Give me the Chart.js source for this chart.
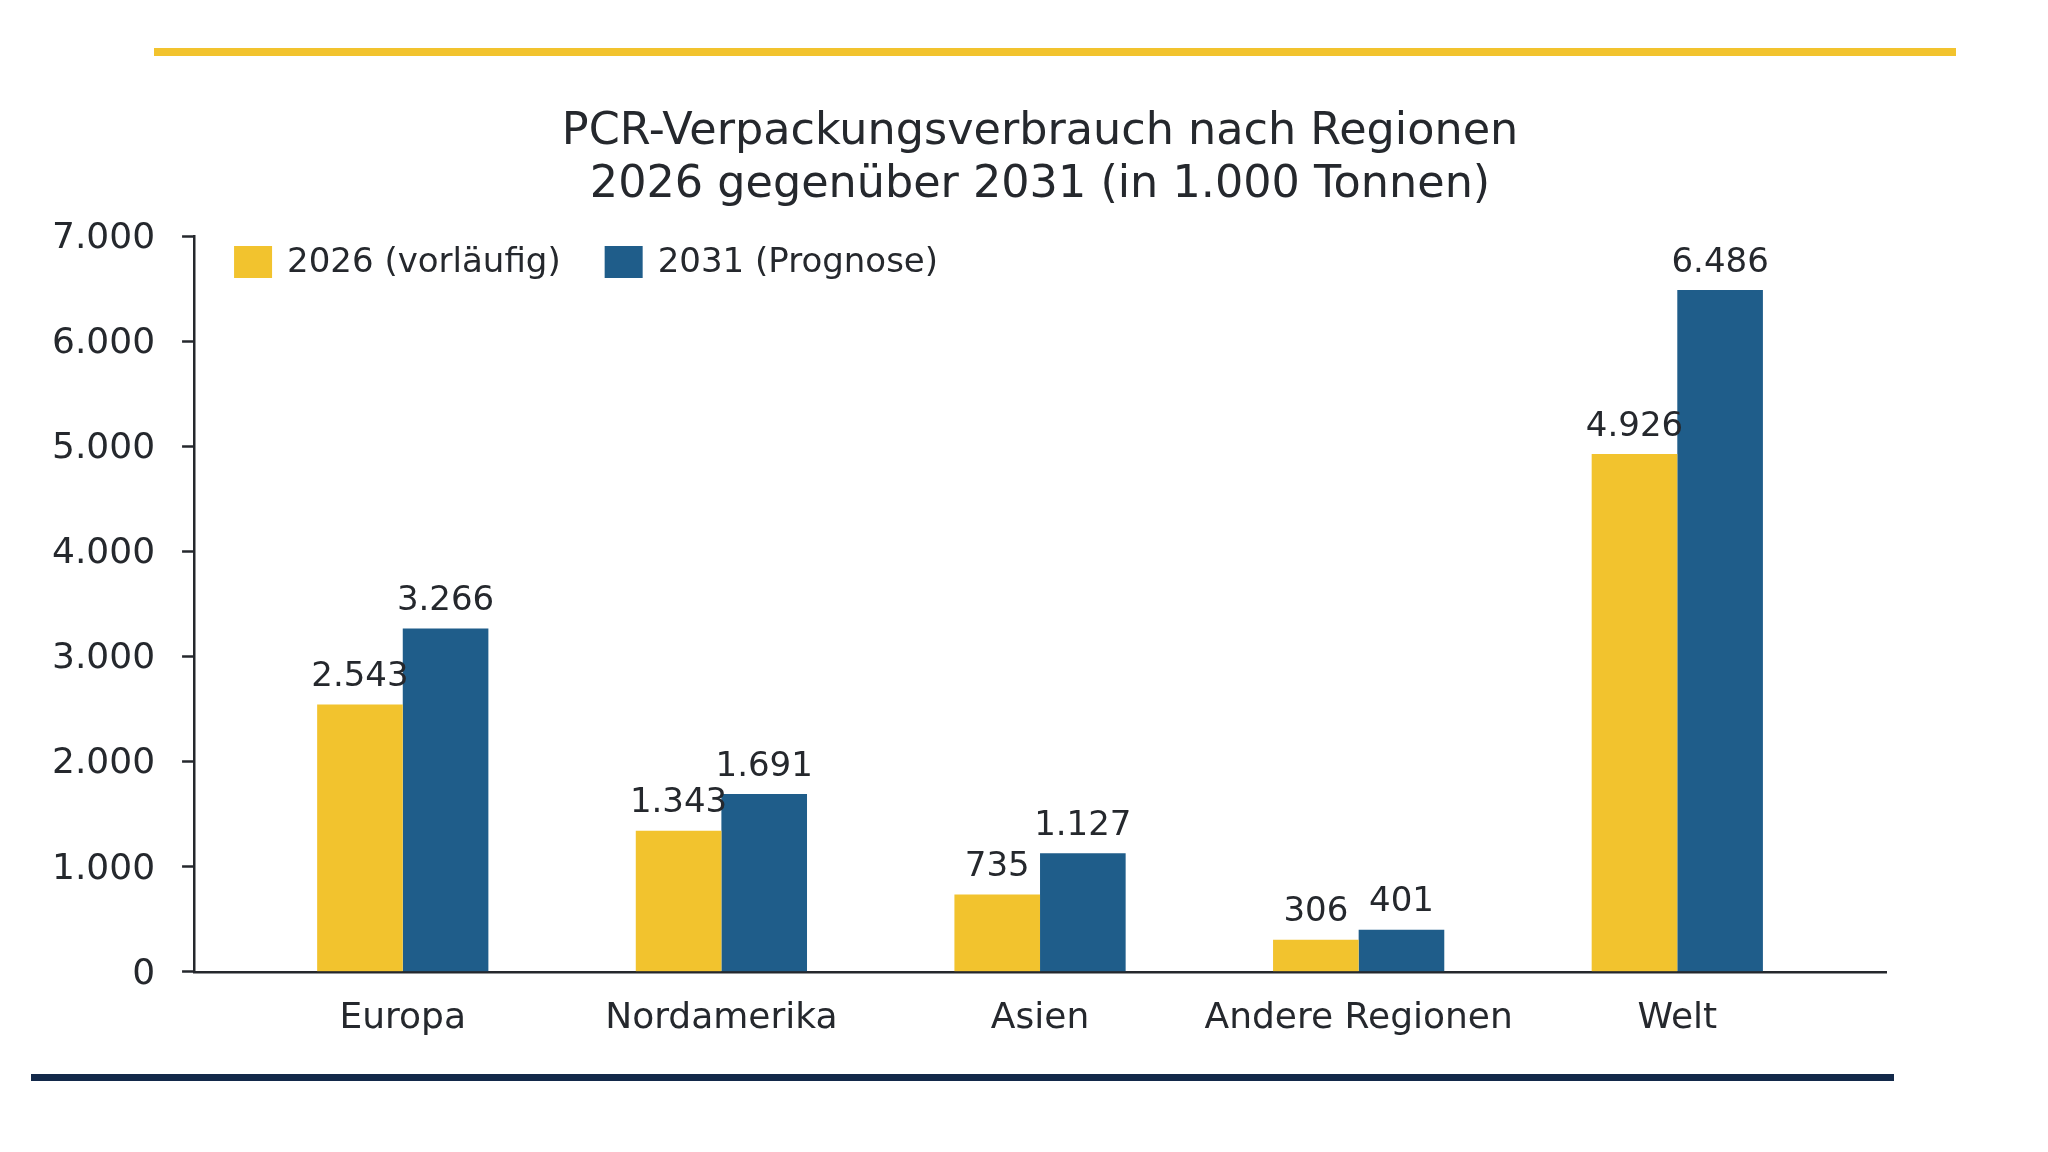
<!DOCTYPE html>
<html>
<head>
<meta charset="utf-8">
<script src="https://cdn.jsdelivr.net/npm/chart.js@4/dist/chart.umd.min.js"></script>
<style>
    html, body { margin: 0; padding: 0; background: #fff; }
    #wrap { width: 2048px; height: 1152px; }
</style>
</head>
<body>
<div id="wrap"><canvas id="myChart" width="2048" height="1152"></canvas></div>
<script>
(() => {
    'use strict'

    const regions = ['Europa', 'Nordamerika', 'Asien', 'Andere Regionen', 'Welt']
    const values2026 = [2543, 1343, 735, 306, 4926]
    const values2031 = [3266, 1691, 1127, 401, 6486]
    const seriesNames = ['2026 (vorläufig)', '2031 (Prognose)']
    const yTicks = [0, 1000, 2000, 3000, 4000, 5000, 6000, 7000]

    const YELLOW = '#F2C32E'
    const BLUE = '#1F5D8A'
    const NAVY = '#13294A'
    const INK = '#25282d'
    const FONT = 'DejaVu Sans'

    // 1.234 style
    const fmt = v => String(v).replace(/\B(?=(\d{3})+(?!\d))/g, '.')

    const toPoints = arr => arr.map((v, i) => ({ x: i, y: v }))

    // horizontal rules above and below the chart
    const decor = {
        id: 'decor',
        beforeDraw(chart) {
            const c = chart.ctx
            c.save()
            c.fillStyle = '#fff'
            c.fillRect(0, 0, chart.width, chart.height)
            c.fillStyle = YELLOW
            c.fillRect(154, 48, 1802, 8)
            c.fillStyle = NAVY
            c.fillRect(31, 1074, 1863, 7)
            c.restore()
        }
    }

    // value labels on top of the bars
    const barLabels = {
        id: 'barLabels',
        afterDatasetsDraw(chart) {
            const c = chart.ctx
            c.save()
            c.font = '34px "' + FONT + '"'
            c.fillStyle = INK
            c.textAlign = 'center'
            c.textBaseline = 'alphabetic'
            chart.data.datasets.forEach((ds, di) => {
                chart.getDatasetMeta(di).data.forEach((bar, i) => {
                    c.fillText(fmt(ds.data[i].y), bar.x, bar.y - 18.5)
                })
            })
            c.restore()
        }
    }

    // legend inside the plot, top left
    const innerLegend = {
        id: 'innerLegend',
        afterDraw(chart) {
            const c = chart.ctx
            const area = chart.chartArea
            let x = area.left + 40
            const cy = area.top + 27
            c.save()
            c.font = '34px "' + FONT + '"'
            c.textBaseline = 'middle'
            c.textAlign = 'left'
            chart.data.datasets.forEach(ds => {
                c.fillStyle = ds.backgroundColor
                c.fillRect(x, cy - 17, 38, 32)
                x += 38 + 15
                c.fillStyle = INK
                c.fillText(ds.label, x, cy)
                x += c.measureText(ds.label).width + 44
            })
            c.restore()
        }
    }

    const ctx = document.getElementById('myChart')
    // eslint-disable-next-line no-unused-vars
    const myChart = new Chart(ctx, {
        type: 'bar',
        data: {
            datasets: [{
                label: seriesNames[0],
                data: toPoints(values2026),
                backgroundColor: YELLOW,
                borderWidth: 0
            }, {
                label: seriesNames[1],
                data: toPoints(values2031),
                backgroundColor: BLUE,
                borderWidth: 0
            }]
        },
        options: {
            responsive: false,
            animation: false,
            devicePixelRatio: 1,
            categoryPercentage: 0.5374,
            barPercentage: 1,
            layout: {
                padding: { top: 0, left: 25, right: 162, bottom: 86 }
            },
            scales: {
                x: {
                    type: 'linear',
                    min: -0.655,
                    max: 4.655,
                    offset: false,
                    grid: { display: true, drawOnChartArea: false, drawTicks: false },
                    border: { display: true, color: INK, width: 2.5 },
                    ticks: {
                        stepSize: 1,
                        includeBounds: false,
                        autoSkip: false,
                        maxRotation: 0,
                        padding: 25.5,
                        color: INK,
                        font: { family: FONT, size: 36 },
                        callback: v => regions[v] !== undefined ? regions[v] : ''
                    }
                },
                y: {
                    min: 0,
                    max: 7000,
                    afterBuildTicks: axis => {
                        axis.ticks = yTicks.map(v => ({ value: v }))
                    },
                    grid: {
                        drawOnChartArea: false,
                        drawTicks: true,
                        tickLength: 12,
                        tickWidth: 2.5,
                        tickColor: INK
                    },
                    border: { display: true, color: INK, width: 2.5 },
                    ticks: {
                        padding: 27,
                        labelOffset: 2.5,
                        color: INK,
                        font: { family: FONT, size: 36 },
                        callback: v => fmt(v)
                    }
                }
            },
            plugins: {
                legend: {
                    display: false
                },
                tooltip: {
                    enabled: false
                },
                title: {
                    display: true,
                    fullSize: false,
                    text: [
                        'PCR-Verpackungsverbrauch nach Regionen',
                        '2026 gegenüber 2031 (in 1.000 Tonnen)'
                    ],
                    color: INK,
                    font: { family: FONT, size: 44.5, weight: 'normal', lineHeight: 1.2 },
                    padding: { top: 105.5, bottom: 23.7 }
                }
            }
        },
        plugins: [decor, barLabels, innerLegend]
    })
})()
</script>
</body>
</html>
